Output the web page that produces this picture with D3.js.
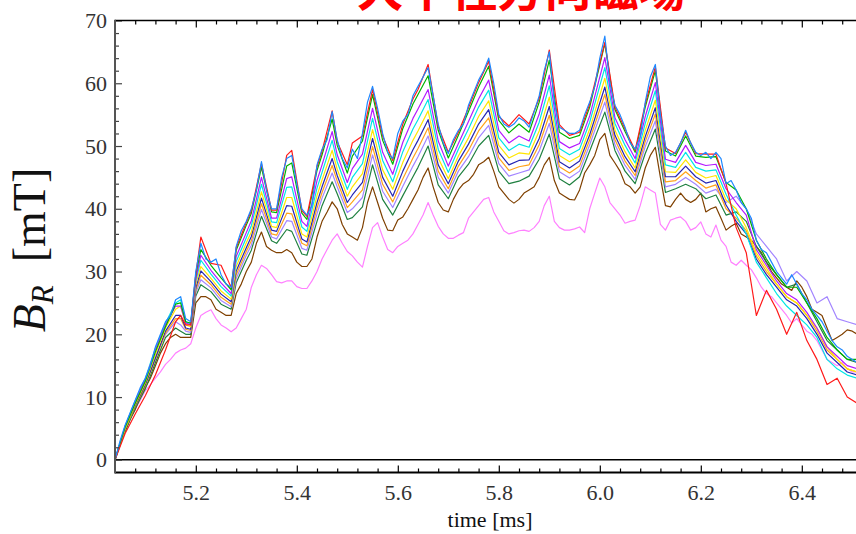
<!DOCTYPE html>
<html><head><meta charset="utf-8">
<script src="https://cdn.jsdelivr.net/npm/d3@7"></script>
<style>html,body{margin:0;padding:0;background:#fff;} svg{display:block;}</style>
</head><body><svg id="c" width="856" height="534"></svg>
<script>
// ---- data ----
const timesFine = [5.04,5.05,5.06,5.07,5.08,5.09,
5.10,5.11,5.12,5.13,5.14,5.15,5.16,5.17,5.18,5.19,
5.20,5.21,5.22,5.23,5.24,5.25,5.26,5.27,5.28,5.29,
5.30,5.31,5.32,5.33,5.34,5.35,5.36,5.37,5.38,5.39,
5.40,5.41,5.42,5.43,5.44,5.45,5.46,5.47,5.48,5.49,
5.50,5.51,5.52,5.53,5.54,5.55,5.56,5.57,5.58,5.59,
5.60,5.61,5.62,5.63,5.64,5.65,5.66,5.67,5.68,5.69,
5.70,5.71,5.72,5.73,5.74,5.75,5.76,5.77,5.78,5.79,
5.80,5.81,5.82,5.83,5.84,5.85,5.86,5.87,5.88,5.89,
5.90,5.91,5.92,5.93,5.94,5.95,5.96,5.97,5.98,5.99,
6.00,6.01,6.02,6.03,6.04,6.05,6.06,6.07,6.08,6.09,
6.10,6.11,6.12,6.13,6.14,6.15,6.16,6.17,6.18,6.19,
6.20,6.21,6.22,6.23,6.24,6.25,6.26,6.27,6.28,6.29,
6.30,6.31,6.32,6.33,6.34,6.35,6.36,6.37,6.38,6.39,
6.40,6.41,6.42,6.43,6.44,6.45,6.46,6.47,6.48,6.49,
6.50,6.51];

const blueVals = [0,3,5.5,7.5,9.5,11.5,13,15,18,20,22,23,25.5,26,22.5,22,
30,34.5,32,31.5,32,29.5,28,27.5,34,36.5,
38,40,43,47.5,43,40,40,45,48,48.5,
44,40,39,40.5,47,49.5,51,55.5,51,48,
46.5,49.5,48,52,57,59.5,56,52,49,48,
52,54,55,58,59.5,61,62.5,58,53.5,50.5,
48.8,51,52.5,53.5,56.5,58.5,60.5,62,64,60,
55,53.5,53,53.5,54.5,54,53,55.5,58,62,
65,57,53,52.5,52,52,52.5,55,57,59.5,
64,67.5,60,56.5,55,53,50.5,49.5,51.5,57,
61,63,55,50,48.5,49,50.5,52.5,50.5,49,
48.5,49,48,49,48,44,44.5,43,41,40,
38.5,35,33.5,33,31.5,30,29,28,29.5,28,
26.5,25.5,24,23,22,20.5,19,18,17.5,16.5,
16,15.5];

const brownVals = [0,2.5,4.5,6.5,8,10,11.5,13,15,17,18.5,19.5,20,19.5,19.5,19.5,
25,26,26,25.5,24,23.5,23,23,26.5,28,
30,31.5,34.5,36.3,34,33.4,33,33,33.5,33,
31.5,30.8,30.8,32,35.5,38,39.5,41.1,40,37.5,
36,35.5,35,37,41,43.5,41,38.5,36.6,36.5,
38.2,38.7,40,41.5,43,45,46.5,43.5,41,39.8,
39.5,41.5,43,44,44.5,45.5,47,47.5,48.2,46,
43.5,42.5,41.5,40.9,41.5,42.5,43,43.5,45,47,
48.2,44.5,42.5,42,41.5,41.4,43,45.7,47,48.5,
51,52,48.5,47.3,46,44,43.5,42.5,43.5,46.5,
48.5,49.8,45,40.5,40.3,41.5,42.5,41.5,41,41.5,
42.5,39.5,40,40.3,38.5,36.6,37.2,37.7,36,35.5,
35,34,33,31.5,30,29,28,27.5,27,28.5,
27.5,26,24,23.5,23,21,19,19.5,20,20.7,
20.5,20];

const pinkVals = [0,2.5,4.5,6.5,8,9.5,11,12,13,14,15.2,16,17,17.5,17.8,18.5,
21,23,23.5,23.9,22.5,21.5,21,20.4,21,22.5,
24,27.5,29.5,31,30.5,29.5,28.4,28.2,28.5,28.5,
27.6,27.3,27.3,28.5,30,32,33.5,35,36,34.5,
33.2,32.5,31.5,30.7,34,37,37.8,35.5,33.5,33,
34,34.5,35,36,37.5,39,41,39,37.2,36,
35.3,35.3,35.8,36.2,38.5,39.5,40.5,41.5,41.8,39.5,
38,36.5,36,36.2,36.5,36.6,36.4,37,38,40.5,
42,38,37,36.6,36.6,36.8,37.1,36.2,40,42.5,
44.9,43.5,41,40,39,37.7,38,38.2,40.5,43.5,
43,42.5,37.5,36.6,38.2,38.5,38.7,38,36.6,37,
37.9,36,35.5,37.4,35,34,31.5,31,31.8,31,
30.3,29,27.5,26.5,26,25,24,23,21.8,22.5,
21.5,20.5,20,19,17.5,16,15.5,15,15.5,14.5,
14,14];

const timesCoarse = [5.04,5.06,5.08,5.10,5.12,5.14,5.16,5.17,5.18,5.19,
5.20,5.21,5.23,5.25,5.27,5.28,5.30,5.31,5.33,5.35,
5.36,5.38,5.39,5.41,5.42,5.44,5.45,5.47,5.48,5.50,
5.51,5.53,5.55,5.57,5.59,5.61,5.63,5.64,5.66,5.68,
5.70,5.72,5.74,5.76,5.78,5.80,5.82,5.84,5.86,5.88,
5.90,5.92,5.94,5.96,5.98,6.01,6.03,6.05,6.07,6.09,
6.11,6.13,6.15,6.17,6.19,6.21,6.23,6.25,6.27,6.29,
6.31,6.33,6.35,6.37,6.39,6.41,6.43,6.45,6.47,6.49,6.51];

const redVals = [0,4.2,7.3,10.2,13.5,17.5,22,23,21.5,21.5,
29.5,35.5,31.3,31,27.5,33.8,37.8,39.7,47.2,39.8,
39.8,48.5,49.3,39.7,38.8,46.7,49.2,55.6,50.7,47,
50.5,51.6,59.0,51.6,47.7,53.5,57.5,59,63,53.1,
49,52.2,56.1,60.1,63.5,54.7,53.2,55,53.5,57.6,
65.3,53.4,51.7,52.2,56.7,66.5,56.2,52.7,49.3,56.7,
62.6,49.7,48.8,52.2,48.8,48.7,48.7,44,37,33,
23,27,24,20,23.5,19,16,12,13,10,9];

const greenVals = [0,5.2,9.0,12.5,17.2,21.2,24.8,25,22,21.8,
29.5,33.5,31.0,29,27.1,33.4,37.4,39.3,46.6,39.5,
39.4,46.8,47.3,39.3,38.3,46.1,48.6,54.3,50.1,45.7,
48.4,50.8,58.2,50.9,47.1,52.8,56.7,58.2,61.2,52.5,
48.1,51.7,55.5,59.4,62.7,54.1,52.1,53.5,52.2,57,
63.7,52.2,51.2,51.7,56.2,66.3,55.8,52.3,49,56.2,
62,49.2,48.4,51.6,48.4,48.2,48.3,44.2,43,40,
35,32,29.5,27.5,27.5,25,22.5,19.5,17.5,16,16];

const magentaVals = [0,5.3,9.2,12.8,17.5,21.5,24.5,24.5,21.8,21.5,
28.8,32.6,30.2,28.2,26.5,32.4,36.2,38.1,45.0,38.5,
38.5,44.8,45.1,38,37.2,44.5,47,52.3,48.6,44.2,
46.4,48.7,56,49.0,45.5,50.6,54.4,55.9,59,50.8,
46.8,50.4,53.9,57.5,60.5,52.5,50.5,51.6,50.8,55.1,
61.3,50.7,49.7,50.4,54.8,64.1,54.5,51,48,54.7,
60.1,47.9,47.4,50.1,47.4,46.9,47.1,43.2,41,39,
33.5,31,28.5,26.5,25.5,23.5,21,18,16.5,15,14.5];

const cyanVals = [0,5.4,9.4,13.0,17.8,21.8,25.0,25.5,22.0,21.6,
28.5,31.8,29.6,27.6,26.1,31.6,35.4,37.3,43.9,37.9,
37.8,43.4,43.5,37.1,36.4,43.3,45.8,50.9,47.5,43.1,
45.0,47.2,54.4,47.7,44.3,49.1,52.7,54.2,57.4,49.5,
45.8,49.5,52.7,56.2,58.9,51.3,49.3,50.3,49.8,53.8,
59.6,49.6,48.6,49.5,53.8,62.5,53.6,50.1,47.3,53.6,
58.8,47,46.6,49,46.6,46,46.2,42.3,39,36,
31.5,29,26.5,24.5,23,21.5,19.5,16,14.5,13.5,13];

const yellowVals = [0,5.0,8.8,12.3,16.8,21.0,24.0,24.5,21.5,21.2,
28,30.8,28.9,26.9,25.6,30.8,34.6,36.3,42.7,37.2,
37.0,41.8,41.8,36.0,35.5,42.1,44.6,49.3,46.3,42,
43.5,45.6,52.6,46.2,43.1,47.4,50.9,52.4,55.6,48.1,
44.8,48.4,51.3,54.7,57.2,50.1,48.1,48.9,48.7,52.4,
57.8,48.5,47.5,48.4,52.7,60.8,52.5,49.1,46.5,52.5,
57.3,45.9,45.8,47.8,45.8,44.9,45.3,41.4,40,37,
33,30.5,28,26,25,23,21,18,16,14.5,14];

const darkBlueVals = [0,5.1,8.6,12.0,16.2,20.5,23.0,23,21.0,20.8,
27.4,30.1,28.4,26.4,25.2,30.1,33.8,35.6,41.7,36.6,
36.4,40.5,40.4,35.2,34.7,41.0,43.5,48.0,45.3,41,
42.2,44.2,51.2,45,42,46.0,49.4,50.9,54.2,47,
44,47.6,50.3,53.5,55.8,49,47,47.7,47.8,51.2,
56.3,47.5,46.5,47.6,51.8,59.4,51.7,48.3,45.9,51.5,
56.1,45.1,45.1,46.8,45.1,44.1,44.5,40.6,38,36,
32,29.5,27.5,25.5,24.5,22.5,20,17,15.5,14,13.5];

const orangeVals = [0,4.9,8.5,11.8,16.0,20.2,22.5,22.5,20.8,20.6,
27,29.4,27.9,25.9,24.8,29.5,33.2,34.9,40.8,36.0,
35.8,39.3,39.2,34.5,34.1,40.1,42.6,46.9,44.4,40.2,
41.1,43,49.9,43.9,41.1,44.8,48.1,49.6,52.9,46,
43.2,46.8,49.3,52.4,54.5,48.1,46.1,46.7,47,50.2,
54.9,46.7,45.7,46.8,51,58.2,51,47.6,45.3,50.7,
55.1,44.3,44.5,45.9,44.5,43.3,43.8,40,38.5,36.5,
32.5,30,28,26,25,23,20.5,17.5,16,14.5,14];

const lavenderVals = [0,5.0,8.9,12.4,16.5,20.0,22.0,21.5,20.5,20.3,
26.6,28.7,27.4,25.4,24.4,28.9,32.6,34.2,39.9,35.5,
35.2,38.1,38,33.7,33.4,39.2,41.7,45.7,43.5,39.4,
40,41.8,48.6,42.8,40.2,43.6,46.8,48.3,51.6,45,
42.5,46,48.3,51.3,53.3,47.2,45.2,45.7,46.2,49.2,
53.6,45.9,44.9,46,50.2,57,50.2,46.9,44.7,49.9,
54,43.5,43.9,45,43.9,42.5,43.1,41,42,40,
36,34,32,28.5,30,28.5,25,26,22.5,22,21.5];

const darkGreenVals = [0,4.6,8.2,11.3,15.5,19.5,21.0,20.5,20.0,20.0,
26.1,27.9,26.8,24.8,24,28.2,31.8,33.4,38.8,34.9,
34.5,36.7,36.4,32.8,32.6,38.0,40.5,44.3,42.4,38.3,
38.6,40.3,47,41.5,39,42.1,45.1,46.6,50,43.8,
41.6,45.1,47.1,50,51.7,46,44,44.4,45.2,47.9,
51.9,44.8,43.8,45.1,49.2,55.4,49.3,46,44,48.8,
52.7,42.6,43.2,43.9,43.2,41.6,42.2,39,39.5,38,
34,31.5,29.5,27.5,28,25,22,19,17.5,16,15.5];

const yTickValues = [0,10,20,30,40,50,60,70];
const xTickValues = [5.2,5.4,5.6,5.8,6.0,6.2,6.4];
const titleText = "大半径方向磁場";
const xTitleText = "time [ms]";

// drawing order (bottom first)
const series = [
  {t: timesFine,   v: pinkVals,      color: "#ff80ff"},
  {t: timesFine,   v: brownVals,     color: "#7f4000"},
  {t: timesCoarse, v: darkGreenVals, color: "#1f8040"},
  {t: timesCoarse, v: lavenderVals,  color: "#a385ff"},
  {t: timesCoarse, v: orangeVals,    color: "#ffa31a"},
  {t: timesCoarse, v: darkBlueVals,  color: "#2626b3"},
  {t: timesCoarse, v: yellowVals,    color: "#ffe600"},
  {t: timesCoarse, v: cyanVals,      color: "#00e6e6"},
  {t: timesCoarse, v: magentaVals,   color: "#b31aff"},
  {t: timesCoarse, v: greenVals,     color: "#00b300"},
  {t: timesCoarse, v: redVals,       color: "#ff1a1a"},
  {t: timesFine,   v: blueVals,      color: "#1e88ff"}
];

// ---- layout ----
const svg = d3.select("#c");
const L = 115, R = 856, T = 20.5, B = 472.5;
const x = d3.scaleLinear().domain([5.04, 6.52]).range([115, 862.4]);
const y = d3.scaleLinear().domain([-2.02, 70]).range([472.5, 20.5]);
const serif = "'Liberation Serif','Times New Roman',serif";

svg.append("defs").append("clipPath").attr("id", "clip")
  .append("rect").attr("x", L).attr("y", T).attr("width", R - L).attr("height", B - T);

// title (cut off at the top, as in the reference)
svg.append("text").attr("x", 521).attr("y", 6).attr("text-anchor", "middle")
  .attr("font-family", "'Noto Sans CJK JP','Noto Sans CJK SC',sans-serif")
  .attr("font-weight", "bold").attr("font-size", 47).attr("fill", "#ff0000")
  .text(titleText);

// lines
const line = d3.line().x(d => x(d[0])).y(d => y(d[1]));
const gl = svg.append("g").attr("clip-path", "url(#clip)");
series.forEach(s => {
  gl.append("path").datum(d3.zip(s.t, s.v)).attr("d", line)
    .attr("fill", "none").attr("stroke", s.color).attr("stroke-width", 1.2)
    .attr("stroke-linejoin", "round");
});

// zero axis line
svg.append("line").attr("x1", L).attr("x2", R).attr("y1", y(0)).attr("y2", y(0))
  .attr("stroke", "#000").attr("stroke-width", 1.6);

// minor tick positions
const yMinor = d3.range(-2, 70, 2).filter(v => v % 10 !== 0 && v > -2);
const xMinor = d3.range(5.08, 6.52, 0.04).map(v => +v.toFixed(2))
  .filter(v => !xTickValues.some(m => Math.abs(m - v) < 1e-6));

function styleAxis(g, color) {
  g.attr("font-family", serif);
  g.select(".domain").remove();
  g.selectAll(".tick line").attr("stroke", color).attr("stroke-width", 1.2);
  g.selectAll(".tick text").attr("font-family", serif).attr("font-size", 22).attr("fill", "#333");
}

// left axis
const gLeft = svg.append("g").attr("transform", `translate(${L},0)`)
  .call(d3.axisLeft(y).tickValues(yTickValues).tickSize(-7).tickPadding(8).tickFormat(d3.format("d")));
styleAxis(gLeft, "#444");
const gLeftMinor = svg.append("g").attr("transform", `translate(${L},0)`)
  .call(d3.axisLeft(y).tickValues(yMinor).tickSize(-4).tickFormat(""));
styleAxis(gLeftMinor, "#444");

// bottom axis
const gBot = svg.append("g").attr("transform", `translate(0,${B})`)
  .call(d3.axisBottom(x).tickValues(xTickValues).tickSize(-7).tickPadding(12).tickFormat(d3.format(".1f")));
styleAxis(gBot, "#000");
const gBotMinor = svg.append("g").attr("transform", `translate(0,${B})`)
  .call(d3.axisBottom(x).tickValues(xMinor).tickSize(-4).tickFormat(""));
styleAxis(gBotMinor, "#000");

// top axis
const gTop = svg.append("g").attr("transform", `translate(0,${T})`)
  .call(d3.axisTop(x).tickValues(xTickValues).tickSize(-7).tickFormat(""));
styleAxis(gTop, "#000");
const gTopMinor = svg.append("g").attr("transform", `translate(0,${T})`)
  .call(d3.axisTop(x).tickValues(xMinor).tickSize(-4).tickFormat(""));
styleAxis(gTopMinor, "#000");

// frame
svg.append("line").attr("x1", L).attr("x2", R).attr("y1", T).attr("y2", T).attr("stroke", "#000").attr("stroke-width", 1.6);
svg.append("line").attr("x1", L).attr("x2", R).attr("y1", B).attr("y2", B).attr("stroke", "#000").attr("stroke-width", 2);
svg.append("line").attr("x1", L).attr("x2", L).attr("y1", T - 0.8).attr("y2", B + 1).attr("stroke", "#555").attr("stroke-width", 2);

// axis titles
svg.append("text").attr("x", 490).attr("y", 527).attr("text-anchor", "middle")
  .attr("font-family", serif).attr("font-size", 22).attr("fill", "#111").text(xTitleText);

const yl = svg.append("text").attr("transform", "translate(45,250) rotate(-90)")
  .attr("text-anchor", "middle").attr("font-family", serif).attr("font-size", 46)
  .attr("fill", "#111").style("white-space", "pre");
yl.append("tspan").attr("font-style", "italic").text("B");
yl.append("tspan").attr("font-style", "italic").attr("font-size", 31).attr("dy", 8).text("R");
yl.append("tspan").attr("dy", -8).text("  [mT]");
</script>
</body></html>
